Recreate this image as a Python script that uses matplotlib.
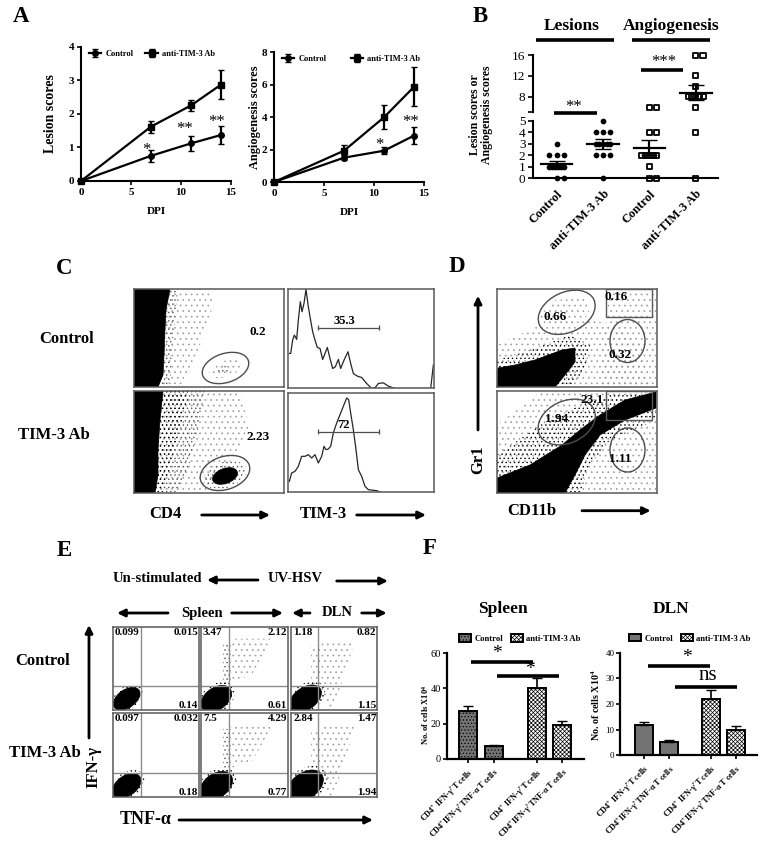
import numpy as np
import matplotlib
matplotlib.use('Agg')
import matplotlib.pyplot as plt
from matplotlib.patches import Polygon, Ellipse, Rectangle

W, H = 767, 848

# panel A
dpi_days = [0, 7, 11, 14]
lesion_control = [0, 0.75, 1.12, 1.37]
lesion_control_err = [0, 0.17, 0.22, 0.27]
lesion_anti = [0, 1.62, 2.25, 2.87]
lesion_anti_err = [0, 0.18, 0.16, 0.44]
angio_control = [0, 1.5, 1.93, 2.86]
angio_control_err = [0, 0.17, 0.2, 0.52]
angio_anti = [0, 1.93, 3.99, 5.87]
angio_anti_err = [0, 0.33, 0.73, 1.2]

# panel B
b_labels = ['Control', 'anti-TIM-3 Ab', 'Control', 'anti-TIM-3 Ab']
b_lesion_control = [3, 2, 2, 2, 1, 1, 1, 1, 1, 1, 0, 0]
b_lesion_anti = [5, 4, 4, 4, 3, 3, 3, 3, 3, 2, 2, 2, 0]
b_angio_control = [6, 6, 4, 4, 2, 2, 2, 2, 2, 1, 0, 0]
b_angio_anti = [16, 16, 12, 10, 8, 8, 8, 8, 8, 6, 4, 0]
b_means = [1.25, 3.0, 2.65, 8.75]
b_sems = [0.3, 0.4, 0.65, 1.45]

# panel C histograms, channel / count
hist_top_x = [868, 872, 878, 883, 890, 895, 901, 906, 912, 918, 925, 930, 938, 945, 952, 960, 968, 975, 982, 990,
              998, 1006, 1015, 1022, 1032, 1044, 1052, 1060, 1072, 1085, 1100, 1115, 1125, 1135, 1150, 1165, 1185,
              1285, 1292, 1300]
hist_top_y = [280, 280, 240, 225, 238, 180, 125, 155, 130, 88, 140, 170, 215, 240, 262, 265, 298, 280, 262, 295,
              325, 320, 298, 325, 300, 275, 310, 340, 348, 352, 370, 385, 383, 370, 368, 378, 385,
              385, 385, 315]
hist_bot_x = [868, 875, 885, 895, 905, 915, 925, 935, 945, 955, 965, 972, 978, 985, 992, 1000, 1010, 1020, 1030,
              1040, 1046, 1052, 1060, 1068, 1075, 1085, 1095, 1105, 1130, 1140]
hist_bot_y = [665, 640, 635, 620, 590, 590, 585, 595, 585, 610, 590, 560, 570, 568, 560, 520, 490, 465, 440,
              415, 420, 460, 510, 570, 630, 650, 680, 690, 693, 697]

# panel C / D dot clouds, outlines of the density zones
c_top_sparse = [(134, 289), (205, 289), (215, 300), (205, 330), (195, 360), (180, 387), (134, 387)]
c_top_dense = [(134, 289), (178, 289), (176, 310), (172, 350), (170, 387), (134, 387)]
c_top_solid = [(134, 289), (170, 289), (166, 310), (165, 330), (164, 355), (163, 375), (158, 387), (134, 387)]
c_bot_sparse = [(134, 391), (240, 391), (250, 430), (225, 470), (205, 493), (134, 493)]
c_bot_mid = [(134, 391), (205, 391), (198, 430), (188, 470), (175, 493), (134, 493)]
c_bot_dense = [(134, 391), (190, 391), (182, 420), (174, 450), (168, 475), (162, 493), (134, 493)]
c_bot_solid = [(134, 391), (163, 391), (160, 420), (158, 450), (158, 475), (155, 493), (134, 493)]

d_top_sparse = [(497, 345), (540, 325), (590, 320), (615, 325), (640, 345), (650, 387), (497, 387)]
d_top_sparse2 = [(610, 289), (656, 289), (656, 387), (600, 387), (605, 330)]
d_top_sparse3 = [(535, 320), (555, 300), (585, 298), (590, 315), (560, 328)]
d_top_dense = [(497, 360), (530, 350), (570, 335), (590, 345), (585, 370), (570, 387), (497, 387)]
d_top_solid = [(498, 368), (515, 365), (535, 360), (562, 350), (575, 348), (575, 362), (565, 375), (555, 387),
               (497, 387)]
d_bot_sparse = [(497, 425), (540, 392), (656, 391), (656, 493), (497, 493)]
d_bot_dense = [(497, 455), (540, 425), (580, 405), (610, 395), (656, 391), (656, 420), (610, 440), (590, 465),
               (580, 493), (497, 493)]
d_bot_solid = [(497, 478), (530, 465), (562, 445), (580, 430), (600, 415), (625, 400), (656, 392), (656, 408),
               (625, 420), (600, 435), (585, 455), (575, 475), (565, 493), (497, 493)]

# panel E quadrant numbers, rows are Control / TIM-3 Ab
e_upper_left = [['0.099', '3.47', '1.18'], ['0.097', '7.5', '2.84']]
e_upper_right = [['0.015', '2.12', '0.82'], ['0.032', '4.29', '1.47']]
e_lower_right = [['0.14', '0.61', '1.15'], ['0.18', '0.77', '1.94']]
e_lower_left = [['99.7', '93.8', '96.8'], ['99.7', '87.4', '93.8']]
# main population size in each plot: width, height
e_blob_w = [[30, 34, 36], [32, 36, 40]]
e_blob_h = [[18, 22, 22], [20, 24, 26]]

# panel F
f_labels = ['CD4$^{+}$ IFN-γ$^{+}$T cells', 'CD4$^{+}$IFN-γ$^{+}$TNF-α T cells'] * 2
f_pos = [0, 1, 2.67, 3.67]
spleen_vals = [27, 7.5, 40.5, 19]
spleen_err = [3, 0.5, 5.5, 2.5]
dln_vals = [12, 5, 22, 9.7]
dln_err = [1, 1, 3.5, 1.7]

plt.rcParams['font.family'] = ['Liberation Serif', 'DejaVu Serif']
plt.rcParams['font.weight'] = 'bold'
plt.rcParams['axes.labelweight'] = 'bold'
plt.rcParams['hatch.linewidth'] = 0.5
plt.rcParams['mathtext.fontset'] = 'custom'
plt.rcParams['mathtext.rm'] = 'Liberation Serif:bold'
plt.rcParams['mathtext.default'] = 'rm'

ZONES = {'dense': ('....', 'k'), 'mid': ('....', '0.35'), 'sparse': ('...', '0.62')}

fig = plt.figure(figsize=(W / 100, H / 100), dpi=100)


def box(x0, y0, x1, y1):
    return fig.add_axes([x0 / W, 1 - y1 / H, (x1 - x0) / W, (y1 - y0) / H])


def clean(ax, lw=1.5):
    ax.spines['top'].set_visible(False)
    ax.spines['right'].set_visible(False)
    ax.spines['left'].set_linewidth(lw)
    ax.spines['bottom'].set_linewidth(lw)


def line_panel(ax_box, control, control_err, anti, anti_err, ymax, yticks, ylabel, ysize, label_x, lx, ly, colsp):
    ax = box(*ax_box)
    clean(ax)
    ax.errorbar(dpi_days, control, yerr=control_err, color='k', marker='o', ms=4, lw=1.6, capsize=2.5,
                clip_on=False, label='Control')
    ax.errorbar(dpi_days, anti, yerr=anti_err, color='k', marker='s', ms=4, lw=1.6, capsize=2.5,
                clip_on=False, label='anti-TIM-3 Ab')
    ax.set_xlim(0, 15)
    ax.set_ylim(0, ymax)
    ax.set_xticks([0, 5, 10, 15])
    ax.set_yticks(yticks)
    ax.tick_params(labelsize=8, length=3, width=1.2, pad=2)
    ax.set_xlabel('DPI', fontsize=8, labelpad=7)
    ax.set_ylabel(ylabel, fontsize=ysize)
    ax.yaxis.set_label_coords((label_x - ax_box[0]) / (ax_box[2] - ax_box[0]), 0.5)
    ax.legend(loc='center left', bbox_to_anchor=(lx, ly), ncol=2, frameon=False, fontsize=6, handlelength=1.5,
              columnspacing=colsp, handletextpad=0.5, borderpad=0, borderaxespad=0)
    return ax


def swarm(values, center, spacing=0.157, max_half=0.16):
    # same scores sit side by side, even rows lean to the right like in the original
    xs, ys = [], []
    for v in sorted(set(values)):
        n = values.count(v)
        step = min(spacing, 2 * max_half / max(n - 1, 1))
        offs = (np.arange(n) - (n - 1) / 2) * step
        if n == 2:
            offs = offs + step / 2
        xs.extend(center + offs)
        ys.extend([v] * n)
    return np.array(xs), np.array(ys)


def flow_axes(x0, y0, x1, y1):
    ax = box(x0, y0, x1, y1)
    ax.set_xlim(x0, x1)
    ax.set_ylim(y1, y0)
    ax.set_xticks([])
    ax.set_yticks([])
    for s in ax.spines.values():
        s.set_color('0.35')
        s.set_linewidth(1.1)
    return ax


def cloud(ax, pts, level):
    if level == 'solid':
        ax.add_patch(Polygon(pts, closed=True, fc='k', ec='k', lw=0.5))
    else:
        hatch, col = ZONES[level]
        ax.add_patch(Polygon(pts, closed=True, fc='none', ec=col, hatch=hatch, lw=0))


def blob(ax, cx, cy, w, h, angle, level):
    if level == 'solid':
        ax.add_patch(Ellipse((cx, cy), w, h, angle=angle, fc='k', ec='k', lw=0.5))
    else:
        hatch, col = ZONES[level]
        ax.add_patch(Ellipse((cx, cy), w, h, angle=angle, fc='none', ec=col, hatch=hatch, lw=0))


def gate(ax, cx, cy, w, h, angle):
    ax.add_patch(Ellipse((cx, cy), w, h, angle=angle, fc='none', ec='0.3', lw=1))


# A
line_panel((81, 46.7, 231, 181), lesion_control, lesion_control_err, lesion_anti, lesion_anti_err,
           4, [0, 1, 2, 3, 4], 'Lesion scores', 10, 57, 0.053, 0.945, 1.4)
line_panel((274, 52.3, 424, 182), angio_control, angio_control_err, angio_anti, angio_anti_err,
           8, [0, 2, 4, 6, 8], 'Angiogenesis scores', 8.8, 261, 0.053, 0.95, 2.9)

# B, broken axis
ax_bl = box(532.5, 121, 718, 178.3)
ax_bu = box(532.5, 50, 718, 111.7)
y_top_max = 8 + (96.7 - 50) / 5.2
y_top_min = 8 - (111.7 - 96.7) / 5.2
groups = [b_lesion_control, b_lesion_anti, b_angio_control, b_angio_anti]
markers = ['o', 'o', 's', 's']
xlim_b = (-0.52, 3.48)
for i, vals in enumerate(groups):
    xs, ys = swarm(vals, i)
    low = ys <= 5
    for ax, keep in ((ax_bl, low), (ax_bu, ~low)):
        if markers[i] == 'o':
            ax.scatter(xs[keep], ys[keep], s=17, c='k', marker='o', clip_on=False, zorder=3, linewidths=0)
        else:
            ax.scatter(xs[keep], ys[keep], s=14, facecolors='none', edgecolors='k', marker='s', linewidths=1.3,
                       clip_on=False, zorder=3)
    for ax in (ax_bl, ax_bu):
        ax.plot([i - 0.34, i + 0.34], [b_means[i]] * 2, color='k', lw=1.6, zorder=4)
        ax.errorbar(i, b_means[i], yerr=b_sems[i], color='k', lw=1.6, capsize=5.5, zorder=4)
ax_bl.set_xlim(*xlim_b)
ax_bl.set_ylim(0, 5)
ax_bu.set_xlim(*xlim_b)
ax_bu.set_ylim(y_top_min, y_top_max)
clean(ax_bl)
clean(ax_bu)
ax_bu.spines['bottom'].set_visible(False)
ax_bu.spines['left'].set_bounds(y_top_min, 16)
ax_bu.set_xticks([])
ax_bu.set_yticks([y_top_min, 8, 12, 16])
ax_bu.set_yticklabels(['', '8', '12', '16'])
ax_bl.set_yticks([0, 1, 2, 3, 4, 5])
ax_bl.set_xticks(range(4))
ax_bl.set_xticklabels(b_labels, rotation=45, ha='right', rotation_mode='anchor', fontsize=9)
ax_bl.tick_params(axis='x', length=0, pad=7)
for ax in (ax_bl, ax_bu):
    ax.tick_params(axis='y', labelsize=9.5, length=3.5, width=1.2, pad=1.5)
    for t in ax.get_yticklabels():
        t.set_fontweight('normal')
ax_bu.patch.set_visible(False)
ax_bl.patch.set_visible(False)

# C
ax = flow_axes(134, 289, 284, 387)
cloud(ax, c_top_sparse, 'sparse')
cloud(ax, c_top_dense, 'mid')
cloud(ax, c_top_solid, 'solid')
blob(ax, 225, 369, 34, 16, -18, 'sparse')
blob(ax, 223, 370, 14, 7, -18, 'mid')
gate(ax, 225.5, 368, 48, 29, -18)
ax.text(258, 332, '0.2', fontsize=9.5, ha='center', va='center')

ax = flow_axes(134, 391, 284, 493)
cloud(ax, c_bot_sparse, 'sparse')
cloud(ax, c_bot_mid, 'mid')
cloud(ax, c_bot_dense, 'dense')
cloud(ax, c_bot_solid, 'solid')
blob(ax, 225, 475, 44, 26, -18, 'mid')
blob(ax, 225, 476, 26, 15, -20, 'solid')
gate(ax, 225, 473, 51, 33, -18)
ax.text(258, 437, '2.23', fontsize=9.5, ha='center', va='center')

for hist_x, hist_y, y0, y1, ytop, ybot, label, lab_y, gate_y in [
        (hist_top_x, hist_top_y, 289, 388.5, 87, 385, '35.3', 183, 203),
        (hist_bot_x, hist_bot_y, 393, 492, 400, 697, '72', 497, 516)]:
    ax = box(288, y0, 434, y1)
    ax.set_xlim(864, 1302)
    ax.set_ylim(ybot, ytop)
    ax.plot(hist_x, hist_y, color='0.15', lw=0.9)
    ax.errorbar([955, 1137], [gate_y] * 2, yerr=7, color='0.3', lw=0.9, capsize=0)
    ax.text(1032, lab_y, label, fontsize=9, ha='center', va='center')
    ax.set_xticks([])
    ax.set_yticks([])
    for s in ax.spines.values():
        s.set_color('0.35')
        s.set_linewidth(1.1)

# D
ax = flow_axes(497, 289, 656.7, 386.7)
for pts in (d_top_sparse, d_top_sparse2, d_top_sparse3):
    cloud(ax, pts, 'sparse')
cloud(ax, d_top_dense, 'dense')
cloud(ax, d_top_solid, 'solid')
gate(ax, 566.7, 312.3, 60, 40, -25)
gate(ax, 627.5, 341, 35, 43, 0)
ax.add_patch(Rectangle((605.7, 289), 46.6, 28.3, fc='none', ec='0.35', lw=1))
for x, y, s in [(615.7, 296.7, '0.16'), (555, 316.7, '0.66'), (620, 355, '0.32')]:
    ax.text(x, y, s, fontsize=9.5, ha='center', va='center')

ax = flow_axes(497, 390.7, 656.7, 492.7)
cloud(ax, d_bot_sparse, 'sparse')
cloud(ax, d_bot_dense, 'dense')
cloud(ax, d_bot_solid, 'solid')
gate(ax, 566.7, 422, 60, 42, -25)
gate(ax, 627.5, 450, 35, 44, 0)
ax.add_patch(Rectangle((605.7, 390.7), 46.6, 29.5, fc='none', ec='0.35', lw=1))
for x, y, s in [(592, 400, '23.1'), (556.7, 419, '1.94'), (620, 459, '1.11')]:
    ax.text(x, y, s, fontsize=9.5, ha='center', va='center')

# E
e_cols = [(112.7, 199.3, 140.7), (201, 288, 229.3), (291, 377.3, 318.3)]
e_rows = [(626.7, 710, 685.7), (712.7, 797.3, 772.7)]
for r, (y0, y1, gy) in enumerate(e_rows):
    for c, (x0, x1, gx) in enumerate(e_cols):
        ax = flow_axes(x0, y0, x1, y1)
        if c == 1:
            cloud(ax, [(gx - 6, y0 + 16), (gx + 2, y0 + 16), (gx + 2, gy), (gx - 6, gy)], 'mid')
            cloud(ax, [(gx + 2, y0 + 12), (x1 - 15, y0 + 12), (gx + 22, gy - 10), (gx + 2, gy - 5)], 'sparse')
        if c == 2:
            cloud(ax, [(gx - 7, y0 + 18), (gx + 2, y0 + 18), (gx + 2, gy), (gx - 7, gy)], 'sparse')
            cloud(ax, [(gx + 3, y0 + 14), (x1 - 22, y0 + 14), (gx + 14, gy + 26), (gx + 3, gy + 10)], 'sparse')
        ax.axvline(gx, color='0.55', lw=1)
        ax.axhline(gy, color='0.55', lw=1)
        bx = gx - 12 if c else gx - 13
        by = gy + 12
        w, h = e_blob_w[r][c], e_blob_h[r][c]
        blob(ax, bx, by, w * 1.15, h * 1.25, -35, 'dense')
        blob(ax, bx - 1, by + 1, w, h, -35, 'solid')
        ax.text(x0 + 2, y0 + 6, e_upper_left[r][c], fontsize=8, ha='left', va='center')
        ax.text(x1 - 1, y0 + 6, e_upper_right[r][c], fontsize=8, ha='right', va='center')
        ax.text(x1 - 1, y1 - 5, e_lower_right[r][c], fontsize=8, ha='right', va='center')
        ax.text(x0 + 2, y1 - 5, e_lower_left[r][c], fontsize=8, ha='left', va='center')


# F
def bar_panel(ax_box, vals, errs, ymax, yticks, xlim, hatch0, ysize, tick_size, label_x, label_y, leg_x):
    ax = box(*ax_box)
    clean(ax, 1.6)
    ax.bar(f_pos[:2], vals[:2], yerr=[[0, 0], errs[:2]], width=0.7, fc='0.45', ec='k', lw=1.4, hatch=hatch0,
           capsize=3.5, ecolor='k', label='Control', error_kw={'lw': 1.2})
    ax.bar(f_pos[2:], vals[2:], yerr=[[0, 0], errs[2:]], width=0.7, fc='w', ec='k', lw=1.4, hatch='xxxxxxxx',
           capsize=3.5, ecolor='k', label='anti-TIM-3 Ab', error_kw={'lw': 1.2})
    ax.set_xlim(*xlim)
    ax.set_ylim(0, ymax)
    ax.set_yticks(yticks)
    ax.set_xticks(f_pos)
    ax.set_xticklabels(f_labels, rotation=45, ha='right', rotation_mode='anchor', fontsize=5.9)
    ax.tick_params(axis='y', labelsize=tick_size, length=3, width=1.2, pad=1)
    ax.tick_params(axis='x', length=3, width=1.2, pad=3)
    for t in ax.get_yticklabels():
        t.set_fontweight('normal')
    height = ax_box[3] - ax_box[1]
    ax.set_ylabel('No. of cells X10$^{4}$', fontsize=ysize)
    ax.yaxis.set_label_coords((label_x - ax_box[0]) / (ax_box[2] - ax_box[0]), (ax_box[3] - label_y) / height)
    ax.legend(loc='center left', bbox_to_anchor=((leg_x - ax_box[0]) / (ax_box[2] - ax_box[0]), 1 + 14.6 / height),
              ncol=2, frameon=False, fontsize=6.2, handlelength=1.4, handleheight=1, columnspacing=0.9,
              handletextpad=0.4, borderpad=0, borderaxespad=0)
    return ax


bar_panel((446.7, 653.3, 584, 758.7), spleen_vals, spleen_err, 60, [0, 20, 40, 60], (-0.83, 4.51), '.....',
          6, 7.5, 431, 715, 459)
bar_panel((620, 652.7, 757, 755.3), dln_vals, dln_err, 40, [0, 10, 20, 30, 40], (-0.96, 4.52), None,
          7.2, 6.5, 602, 705, 628.7)

# everything else sits on one pixel overlay
ov = fig.add_axes([0, 0, 1, 1], zorder=20)
ov.set_xlim(0, W)
ov.set_ylim(H, 0)
ov.axis('off')


def txt(x, y, s, size, **kw):
    ov.text(x, y, s, fontsize=size, ha='center', va='center', **kw)


def arrow(x0, y0, x1, y1):
    ov.annotate('', xy=(x1, y1), xytext=(x0, y0),
                arrowprops=dict(arrowstyle='-|>,head_width=0.22,head_length=0.45', lw=2, color='k',
                                shrinkA=0, shrinkB=0))


def bar(x0, x1, y, lw=2.6):
    ov.plot([x0, x1], [y, y], color='k', lw=lw, solid_capstyle='butt')


for x, y, s in [(20.7, 17, 'A'), (480, 17, 'B'), (64, 268, 'C'), (457, 267, 'D'), (64, 550, 'E'), (430, 548, 'F')]:
    txt(x, y, s, 16.5)

# significance marks, glyph sits high so y is nudged down
for x, y, s in [(146.7, 146.7, '*'), (185, 126, '**'), (217, 119, '**'), (379, 141.7, '*'), (410.7, 119.3, '**'),
                (574, 104, '**'), (664, 59, '***')]:
    txt(x, y + 3, s, 12, fontweight='normal')
for x, y in [(496.7, 650.7), (530, 666), (686.7, 654)]:
    txt(x, y + 3, '*', 14, fontweight='normal')
txt(708, 675, 'ns', 15, fontweight='normal')

txt(571.7, 26, 'Lesions', 12.5)
txt(670.7, 26, 'Angiogenesis', 12.5)
bar(536, 614, 39.5)
bar(631.7, 710, 39.5)
bar(554, 596.7, 113)
bar(640.7, 683, 70)
ov.text(481, 115, 'Lesion scores or\nAngiogenesis scores', fontsize=8.5, rotation=90, ha='center', va='center',
        linespacing=1.05)

txt(67, 339, 'Control', 12)
txt(54, 435, 'TIM-3 Ab', 12)
txt(165, 514, 'CD4', 12)
txt(323, 514, 'TIM-3', 12)
arrow(201.7, 515, 270, 515)
arrow(356.7, 515, 426, 515)

arrow(478, 430, 478, 295.7)
txt(478, 460, 'Gr1', 12, rotation=90)
txt(531.7, 510.7, 'CD11b', 12)
arrow(582, 510.7, 650.7, 510.7)

txt(157, 579, 'Un-stimulated', 10.5)
txt(295, 578, 'UV-HSV', 10.5)
arrow(258, 580, 207, 580)
arrow(336.7, 581, 388, 581)
txt(202, 613, 'Spleen', 10.5)
txt(337, 613, 'DLN', 10.5)
arrow(168, 613, 117, 613)
arrow(231.7, 613, 283, 613)
arrow(310, 613, 292, 613)
arrow(361.7, 613, 386.7, 613)
txt(43, 660.7, 'Control', 12)
txt(45, 752.7, 'TIM-3 Ab', 12)
arrow(89, 738, 89, 625)
txt(93, 767, 'IFN-γ', 12, rotation=90)
txt(146, 820, 'TNF-α', 13)
arrow(179, 820, 373, 820)

txt(503, 609, 'Spleen', 12.5)
txt(671, 609, 'DLN', 12.5)
bar(471, 532.7, 661.7)
bar(497, 559, 676)
bar(648, 710, 666)
bar(675, 736.7, 686.7)

fig.savefig('out.png', dpi=100)
